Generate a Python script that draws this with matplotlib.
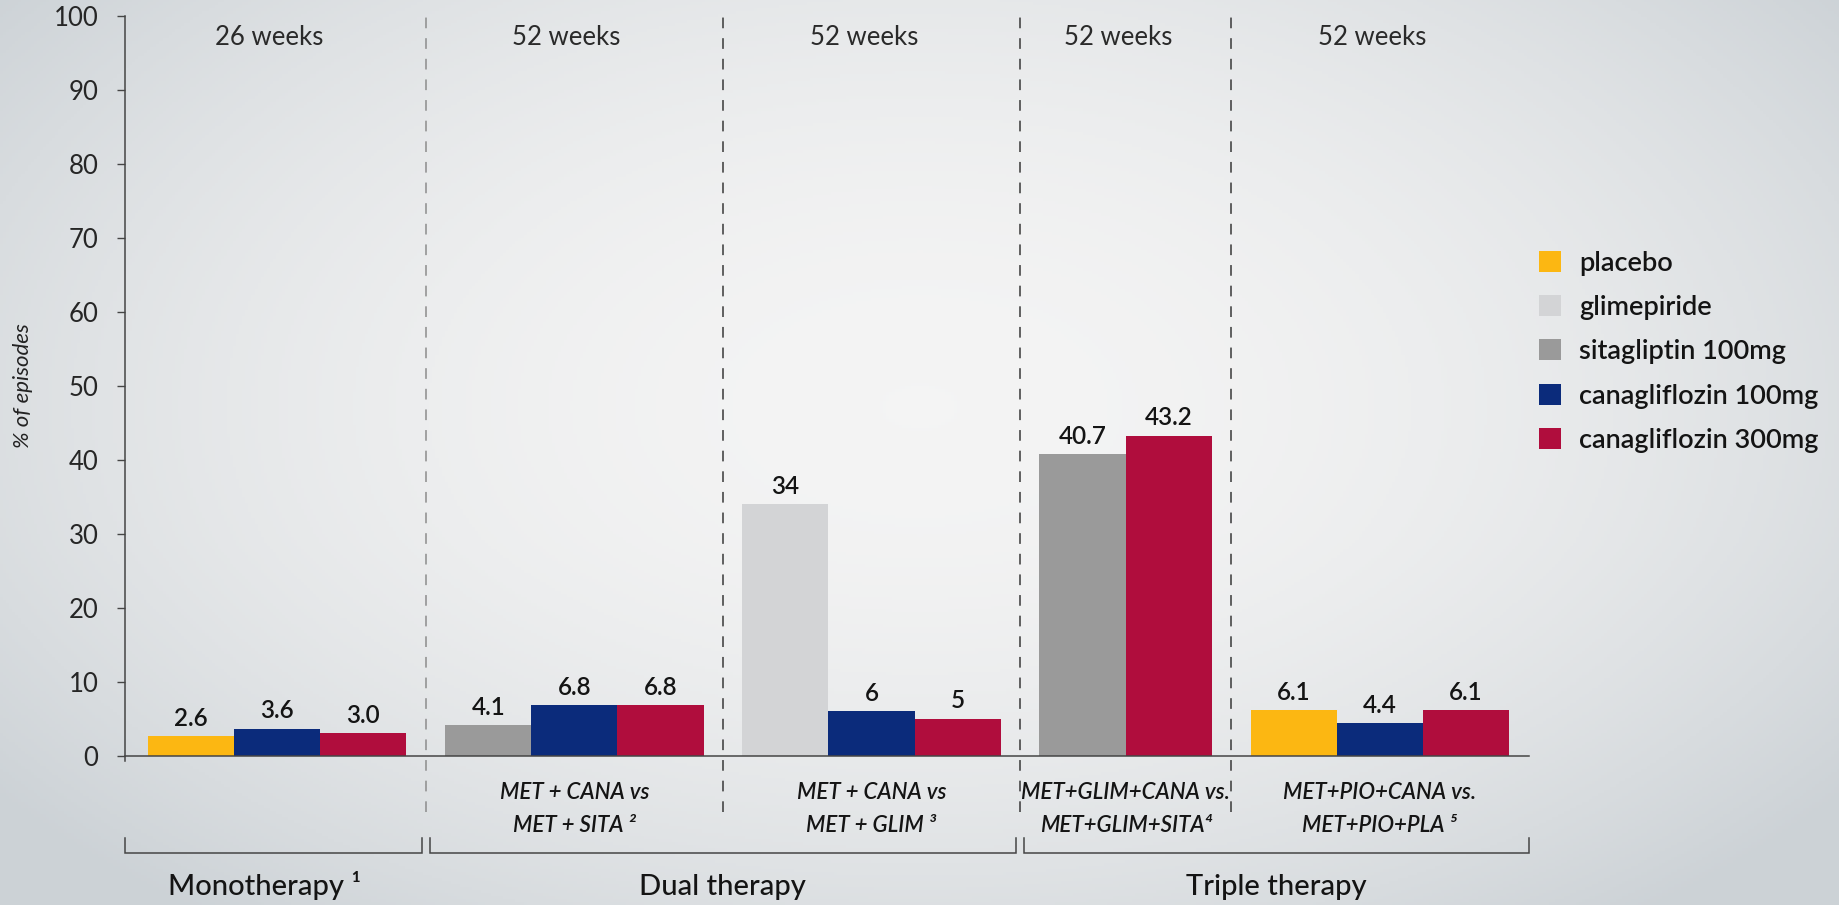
import numpy as np
import matplotlib
matplotlib.use("Agg")
import matplotlib.pyplot as plt
from matplotlib.patches import Patch

# ---- data -------------------------------------------------------------
treatments = ["placebo", "glimepiride", "sitagliptin 100mg",
              "canagliflozin 100mg", "canagliflozin 300mg"]

durations = ["26 weeks", "52 weeks", "52 weeks", "52 weeks", "52 weeks"]

study_titles = [
    ("", ""),
    ("MET + CANA vs", "MET + SITA ²"),
    ("MET + CANA vs", "MET + GLIM ³"),
    ("MET+GLIM+CANA vs.", "MET+GLIM+SITA⁴"),
    ("MET+PIO+CANA vs.", "MET+PIO+PLA ⁵"),
]

study_arms = [
    ["placebo", "canagliflozin 100mg", "canagliflozin 300mg"],
    ["sitagliptin 100mg", "canagliflozin 100mg", "canagliflozin 300mg"],
    ["glimepiride", "canagliflozin 100mg", "canagliflozin 300mg"],
    ["sitagliptin 100mg", "canagliflozin 300mg"],
    ["placebo", "canagliflozin 100mg", "canagliflozin 300mg"],
]

study_values = [
    [2.6, 3.6, 3.0],
    [4.1, 6.8, 6.8],
    [34, 6, 5],
    [40.7, 43.2],
    [6.1, 4.4, 6.1],
]

value_labels = [
    ["2.6", "3.6", "3.0"],
    ["4.1", "6.8", "6.8"],
    ["34", "6", "5"],
    ["40.7", "43.2"],
    ["6.1", "4.4", "6.1"],
]

therapy_classes = ["Monotherapy ¹", "Dual therapy", "Triple therapy"]
studies_per_class = [1, 2, 2]

y_ticks = [0, 10, 20, 30, 40, 50, 60, 70, 80, 90, 100]
y_label = "% of episodes"

# ---- style ------------------------------------------------------------
colors = {
    "placebo": "#fcb712",
    "glimepiride": "#d3d4d6",
    "sitagliptin 100mg": "#9a9a9a",
    "canagliflozin 100mg": "#0b2b7b",
    "canagliflozin 300mg": "#b00d3d",
}
FONT = ["Lato", "DejaVu Sans"]
plt.rcParams["font.family"] = FONT
INK = "#141414"
AXIS = "#454545"

fig = plt.figure(figsize=(18.4, 9.05), dpi=100)

# soft grey backdrop, lighter towards the middle
h, w = 300, 600
yy, xx = np.mgrid[0:1:h * 1j, 0:1:w * 1j]
r2 = ((xx - 0.50) / 0.50) ** 2 + ((yy - 0.45) / 0.60) ** 2
f = np.clip(0.88 * r2 + 0.25 * np.clip(yy - 0.6, 0, None), 0, 1.4)
light = np.array([0.957, 0.957, 0.957])
delta = np.array([28, 24, 21]) / 255.0
bg = light[None, None, :] - f[:, :, None] * delta[None, None, :]
bg_ax = fig.add_axes([0, 0, 1, 1], zorder=-5)
bg_ax.imshow(np.clip(bg, 0, 1), aspect="auto", extent=[0, 1, 0, 1], origin="upper")
bg_ax.axis("off")

ax = fig.add_axes([0.06793, 0.16519, 0.76304, 0.81746])
ax.patch.set_alpha(0)

# ---- bar layout: consecutive bars, small gap between studies -----------
group_gap = 0.45
positions, bounds = [], []
start = 0.0
for vals in study_values:
    xs = start + np.arange(len(vals))
    positions.append(xs)
    bounds.append((xs[0] - 0.5, xs[-1] + 0.5))
    start = xs[-1] + 1 + group_gap

dividers = [(bounds[i][1] + bounds[i + 1][0]) / 2 for i in range(len(bounds) - 1)]
x_lo = bounds[0][0] - 0.267
x_hi = bounds[-1][1] + 0.233

for xs, arms, vals, labs in zip(positions, study_arms, study_values, value_labels):
    ax.bar(xs, vals, width=1.0, color=[colors[a] for a in arms], zorder=3,
           linewidth=0)
    for x, v, lab in zip(xs, vals, labs):
        ax.annotate(lab, (x, v), xytext=(0, 7.5), textcoords="offset points",
                    ha="center", va="baseline", fontsize=17.5, color=INK,
                    fontweight="semibold")

ax.set_xlim(x_lo, x_hi)
ax.set_ylim(0, 100)
ax.set_xticks([])
ax.set_yticks(y_ticks)
ax.tick_params(axis="y", length=6, width=1.0, color=AXIS, pad=13,
               labelsize=18.5, labelcolor="#262626")
for s in ("top", "right"):
    ax.spines[s].set_visible(False)
ax.spines["left"].set_bounds(-0.8, 100)
ax.spines["left"].set_color(AXIS)
ax.spines["left"].set_linewidth(1.1)
ax.spines["bottom"].set_color(AXIS)
ax.spines["bottom"].set_linewidth(1.1)
ax.spines["bottom"].set_zorder(4)

ax.set_ylabel(y_label, fontsize=16, style="italic", color="#222222")
ax.yaxis.set_label_coords(-0.0655, 0.5)

# dashed separators between studies
for i, xd in enumerate(dividers):
    ax.plot([xd, xd], [-7.6, 100.3], clip_on=False, lw=1.1,
            color="#8c8c8c" if i == 0 else "#383838",
            linestyle=(0, (7, 6.5)), zorder=2)

# study duration above each group, study name below
for (b0, b1), dur, (t1, t2) in zip(bounds, durations, study_titles):
    xc = (b0 + b1) / 2 - 0.09
    ax.text(xc, 96.0, dur, ha="center", va="baseline", fontsize=18.5,
            color="#2a2a2a")
    if t1:
        xt = (b0 + b1) / 2
        ax.text(xt, -5.9, t1, ha="center", va="baseline", fontsize=16,
                style="italic", fontweight="semibold", color=INK, clip_on=False)
        ax.text(xt, -10.3, t2, ha="center", va="baseline", fontsize=16,
                style="italic", fontweight="semibold", color=INK, clip_on=False)

# brackets grouping studies by therapy line
pad = 0.045
idx = 0
for k, (name, n) in enumerate(zip(therapy_classes, studies_per_class)):
    left = x_lo if idx == 0 else dividers[idx - 1] + pad
    last = idx + n - 1
    right = x_hi if last == len(bounds) - 1 else dividers[last] - pad
    ax.plot([left, left, right, right], [-11.2, -13.2, -13.2, -11.2],
            clip_on=False, color=AXIS, lw=1.1, solid_joinstyle="miter")
    xc = (left + right) / 2 - (0.1 if k == 0 else 0)
    ax.text(xc, -18.86, name, ha="center", va="baseline", fontsize=21,
            color=INK, fontweight="medium", clip_on=False)
    idx += n

handles = [Patch(facecolor=colors[t], edgecolor="none") for t in treatments]
ax.legend(handles, treatments, loc="center left",
          bbox_to_anchor=(0.8364, 0.6113), bbox_transform=fig.transFigure,
          frameon=False, prop={"family": FONT, "size": 19.5, "weight": "semibold"},
          labelcolor=INK, handlelength=0.815, handleheight=0.815,
          handletextpad=0.67, labelspacing=0.71, borderpad=0,
          borderaxespad=0)

fig.savefig("out.png", dpi=100)
